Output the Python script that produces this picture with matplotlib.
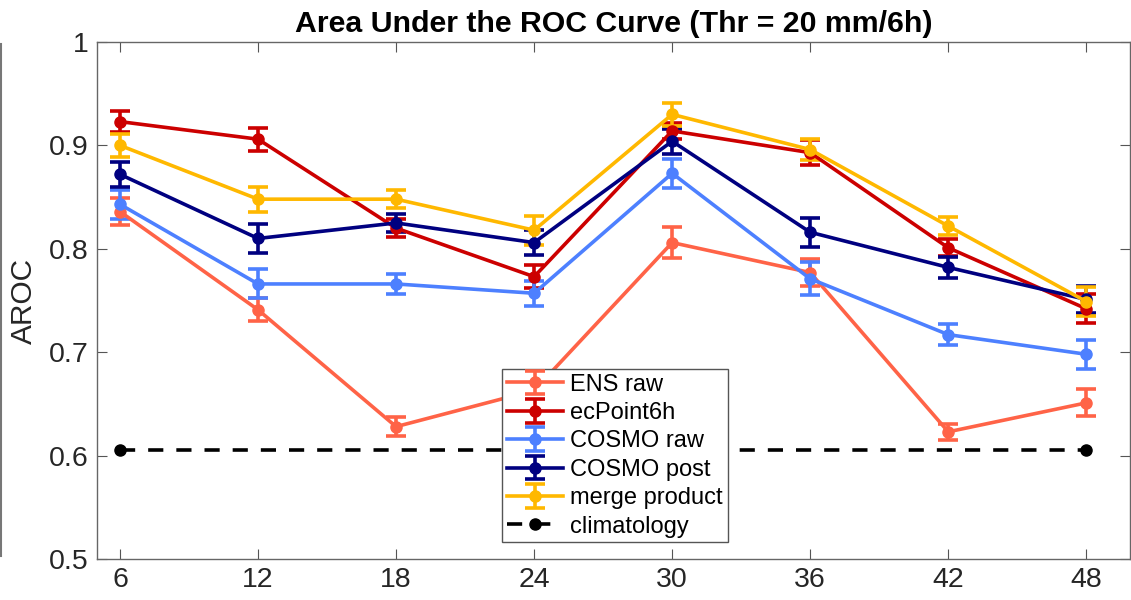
import matplotlib
matplotlib.use('Agg')
import matplotlib.pyplot as plt
from matplotlib.lines import Line2D

plt.rcParams['font.family'] = ['Liberation Sans', 'DejaVu Sans']

# lead time (h)
leadTimes = [6, 12, 18, 24, 30, 36, 42, 48]

ensRaw = [0.836, 0.741, 0.628, 0.663, 0.806, 0.777, 0.623, 0.651]
ensRawErr = [0.013, 0.011, 0.009, 0.012, 0.015, 0.013, 0.008, 0.013]

ecPoint = [0.923, 0.906, 0.820, 0.773, 0.914, 0.893, 0.801, 0.742]
ecPointErr = [0.010, 0.011, 0.009, 0.011, 0.008, 0.012, 0.008, 0.014]

cosmoRaw = [0.843, 0.766, 0.766, 0.757, 0.873, 0.771, 0.717, 0.698]
cosmoRawErr = [0.014, 0.014, 0.010, 0.012, 0.014, 0.016, 0.010, 0.014]

cosmoPost = [0.872, 0.810, 0.825, 0.806, 0.904, 0.816, 0.782, 0.751]
cosmoPostErr = [0.012, 0.014, 0.009, 0.012, 0.012, 0.014, 0.010, 0.013]

merge = [0.900, 0.848, 0.848, 0.818, 0.930, 0.896, 0.822, 0.749]
mergeErr = [0.011, 0.012, 0.009, 0.014, 0.011, 0.010, 0.009, 0.014]

climX = [6, 48]
climY = [0.605, 0.605]

labels = ['ENS raw', 'ecPoint6h', 'COSMO raw', 'COSMO post', 'merge product']
colors = ['#FF6347', '#CC0000', '#4D80FF', '#000080', '#FFB800']
series = [(ensRaw, ensRawErr), (ecPoint, ecPointErr), (cosmoRaw, cosmoRawErr),
          (cosmoPost, cosmoPostErr), (merge, mergeErr)]

fig = plt.figure(figsize=(11.31, 6.0), dpi=100)
ax = fig.add_axes([97/1131, 41/600, (1130-97)/1131, (559-42)/600])

handles = []
for (vals, errs), col, lab in zip(series, colors, labels):
    h = ax.errorbar(leadTimes, vals, yerr=errs, color=col, label=lab,
                    marker='o', markersize=8, linewidth=2.6,
                    elinewidth=2.6, capsize=7, capthick=2.6)
    handles.append(h)

h, = ax.plot(climX, climY, color='black', linestyle='--', dashes=(4.2, 3.6),
             linewidth=2.6, marker='o', markersize=8, label='climatology')
handles.append(h)

ax.set_xlim(5, 49.9)
ax.set_ylim(0.5, 1)
ax.set_xticks(leadTimes)
ax.set_yticks([0.5, 0.6, 0.7, 0.8, 0.9, 1.0])
ax.set_yticklabels(['0.5', '0.6', '0.7', '0.8', '0.9', '1'])
ax.tick_params(direction='in', length=7.5, width=0.8, color='#555555',
               labelsize=20.5, labelcolor='#262626', top=True, right=True, pad=6)
for sp in ax.spines.values():
    sp.set_color('#666666')
    sp.set_linewidth(1.0)

ax.set_ylabel('AROC', fontsize=21.5, color='#262626', labelpad=8)
ax.set_title('Area Under the ROC Curve (Thr = 20 mm/6h)', fontsize=21.8,
             fontweight='bold', pad=7)

leg = ax.legend(handles=handles, labels=labels + ['climatology'],
                loc='upper left', bbox_to_anchor=((502-97)/1033, (559-369)/517),
                fontsize=17, frameon=True, fancybox=False, framealpha=1,
                edgecolor='#555555', borderpad=0.2, labelspacing=0.27,
                handlelength=2.4, handletextpad=0.3, borderaxespad=0)
leg.get_frame().set_linewidth(1.0)

# edge of neighbouring panel, cut off at the left border
fig.add_artist(Line2D([0.0012, 0.0012], [(600-44)/600, (600-556)/600],
                      transform=fig.transFigure, color='#777777', linewidth=1.5))

fig.savefig('out.png', dpi=100)
